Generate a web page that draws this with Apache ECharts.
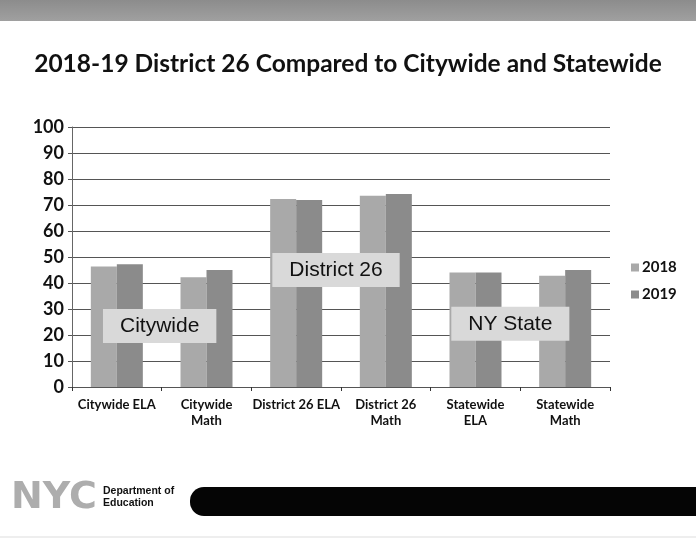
<!DOCTYPE html>
<html><head><meta charset="utf-8">
<script src="https://cdn.jsdelivr.net/npm/echarts@6/dist/echarts.min.js"></script>
<style>html,body{margin:0;padding:0;background:#fff}#c{width:696px;height:550px}</style>
</head><body><div id="c"></div>
<script>
var categories = ['Citywide ELA', 'Citywide\nMath', 'District 26 ELA', 'District 26\nMath', 'Statewide\nELA', 'Statewide\nMath'];
var values2018 = [46.3, 42.2, 72.3, 73.6, 44.0, 42.8];
var values2019 = [47.2, 45.0, 71.9, 74.2, 44.0, 45.0];
var seriesNames = ['2018', '2019'];
var yTicks = [0, 10, 20, 30, 40, 50, 60, 70, 80, 90, 100];
var annotations = [
  {text: 'Citywide', cats: [0, 1], value: 23.5, dx: -2},
  {text: 'District 26', cats: [2, 3], value: 45, dx: -5},
  {text: 'NY State', cats: [4, 5], value: 24.3, dx: -10}
];
var title = '2018-19 District 26 Compared to Citywide and Statewide';

var FONT = 'Lato, "Open Sans", sans-serif';
var chart = echarts.init(document.getElementById('c'), null, {renderer: 'canvas'});
var option = {
  backgroundColor: '#ffffff',
  animation: false,
  title: {
    text: title, left: 'center', top: 47,
    textStyle: {fontFamily: FONT, fontWeight: 'bold', fontSize: 24.5, color: '#111'}
  },
  legend: {
    orient: 'vertical', left: 626, top: 255,
    itemWidth: 8, itemHeight: 8, itemGap: 12,
    icon: 'rect',
    textStyle: {fontFamily: FONT, fontWeight: 'bold', fontSize: 15, color: '#111', padding: [0, 0, 0, -2]},
    data: seriesNames
  },
  grid: {left: 72, right: 86, top: 127, bottom: 163},
  xAxis: {
    type: 'category', data: categories,
    axisLine: {lineStyle: {color: '#555', width: 1}},
    axisTick: {show: true, length: 4, lineStyle: {color: '#333'}},
    axisLabel: {fontFamily: FONT, fontWeight: 'bold', fontSize: 13, color: '#111', margin: 10, lineHeight: 16, interval: 0}
  },
  yAxis: {
    type: 'value', min: 0, max: 100, interval: 10,
    axisLine: {show: true, lineStyle: {color: '#666', width: 1}},
    axisTick: {show: true, length: 4, lineStyle: {color: '#555'}},
    splitLine: {lineStyle: {color: '#555', width: 1}},
    axisLabel: {fontFamily: FONT, fontWeight: 'bold', fontSize: 18, color: '#111', margin: 8,
      formatter: function (v) { return yTicks.indexOf(v) >= 0 ? String(v) : ''; }}
  },
  series: [
    {name: seriesNames[0], type: 'bar', data: values2018, barGap: '0%', barCategoryGap: '42%',
      itemStyle: {color: '#a9a9a9'}},
    {name: seriesNames[1], type: 'bar', data: values2019,
      itemStyle: {color: '#8b8b8b'}}
  ]
};
chart.setOption(option);

var graphics = [
  {type: 'rect', left: 0, top: 0, shape: {width: 696, height: 21},
    style: {fill: new echarts.graphic.LinearGradient(0, 0, 0, 1, [{offset: 0, color: '#8c8c8c'}, {offset: 1, color: '#a0a0a0'}])}, z: 10},
  {type: 'text', left: 11, top: 479, style: {text: 'NYC', font: '900 38px "DejaVu Sans", sans-serif', fill: '#adadad'}, z: 10},
  {type: 'text', left: 103, top: 485, style: {text: 'Department of\nEducation', font: 'bold 10.5px "Liberation Sans", Arial, sans-serif', fill: '#111', lineHeight: 12}, z: 10},
  {type: 'rect', shape: {x: 190, y: 487, width: 540, height: 29, r: 14}, style: {fill: '#050505'}, z: 10},
  {type: 'line', shape: {x1: 0, y1: 537, x2: 696, y2: 537}, style: {stroke: '#dddddd', lineWidth: 1}, z: 10}
];
annotations.forEach(function (a) {
  var p0 = chart.convertToPixel({gridIndex: 0}, [a.cats[0], a.value]);
  var p1 = chart.convertToPixel({gridIndex: 0}, [a.cats[1], a.value]);
  var cx = (p0[0] + p1[0]) / 2 + a.dx;
  var cy = p0[1];
  graphics.push({
    type: 'text', x: cx, y: cy, z: 20,
    style: {
      text: a.text, font: '21px "Liberation Sans", Arial, sans-serif', fill: '#111',
      align: 'center', verticalAlign: 'middle',
      backgroundColor: '#d9d9d9', padding: [7, 17, 6, 17]
    }
  });
});
chart.setOption({graphic: graphics});
</script>
</body></html>
